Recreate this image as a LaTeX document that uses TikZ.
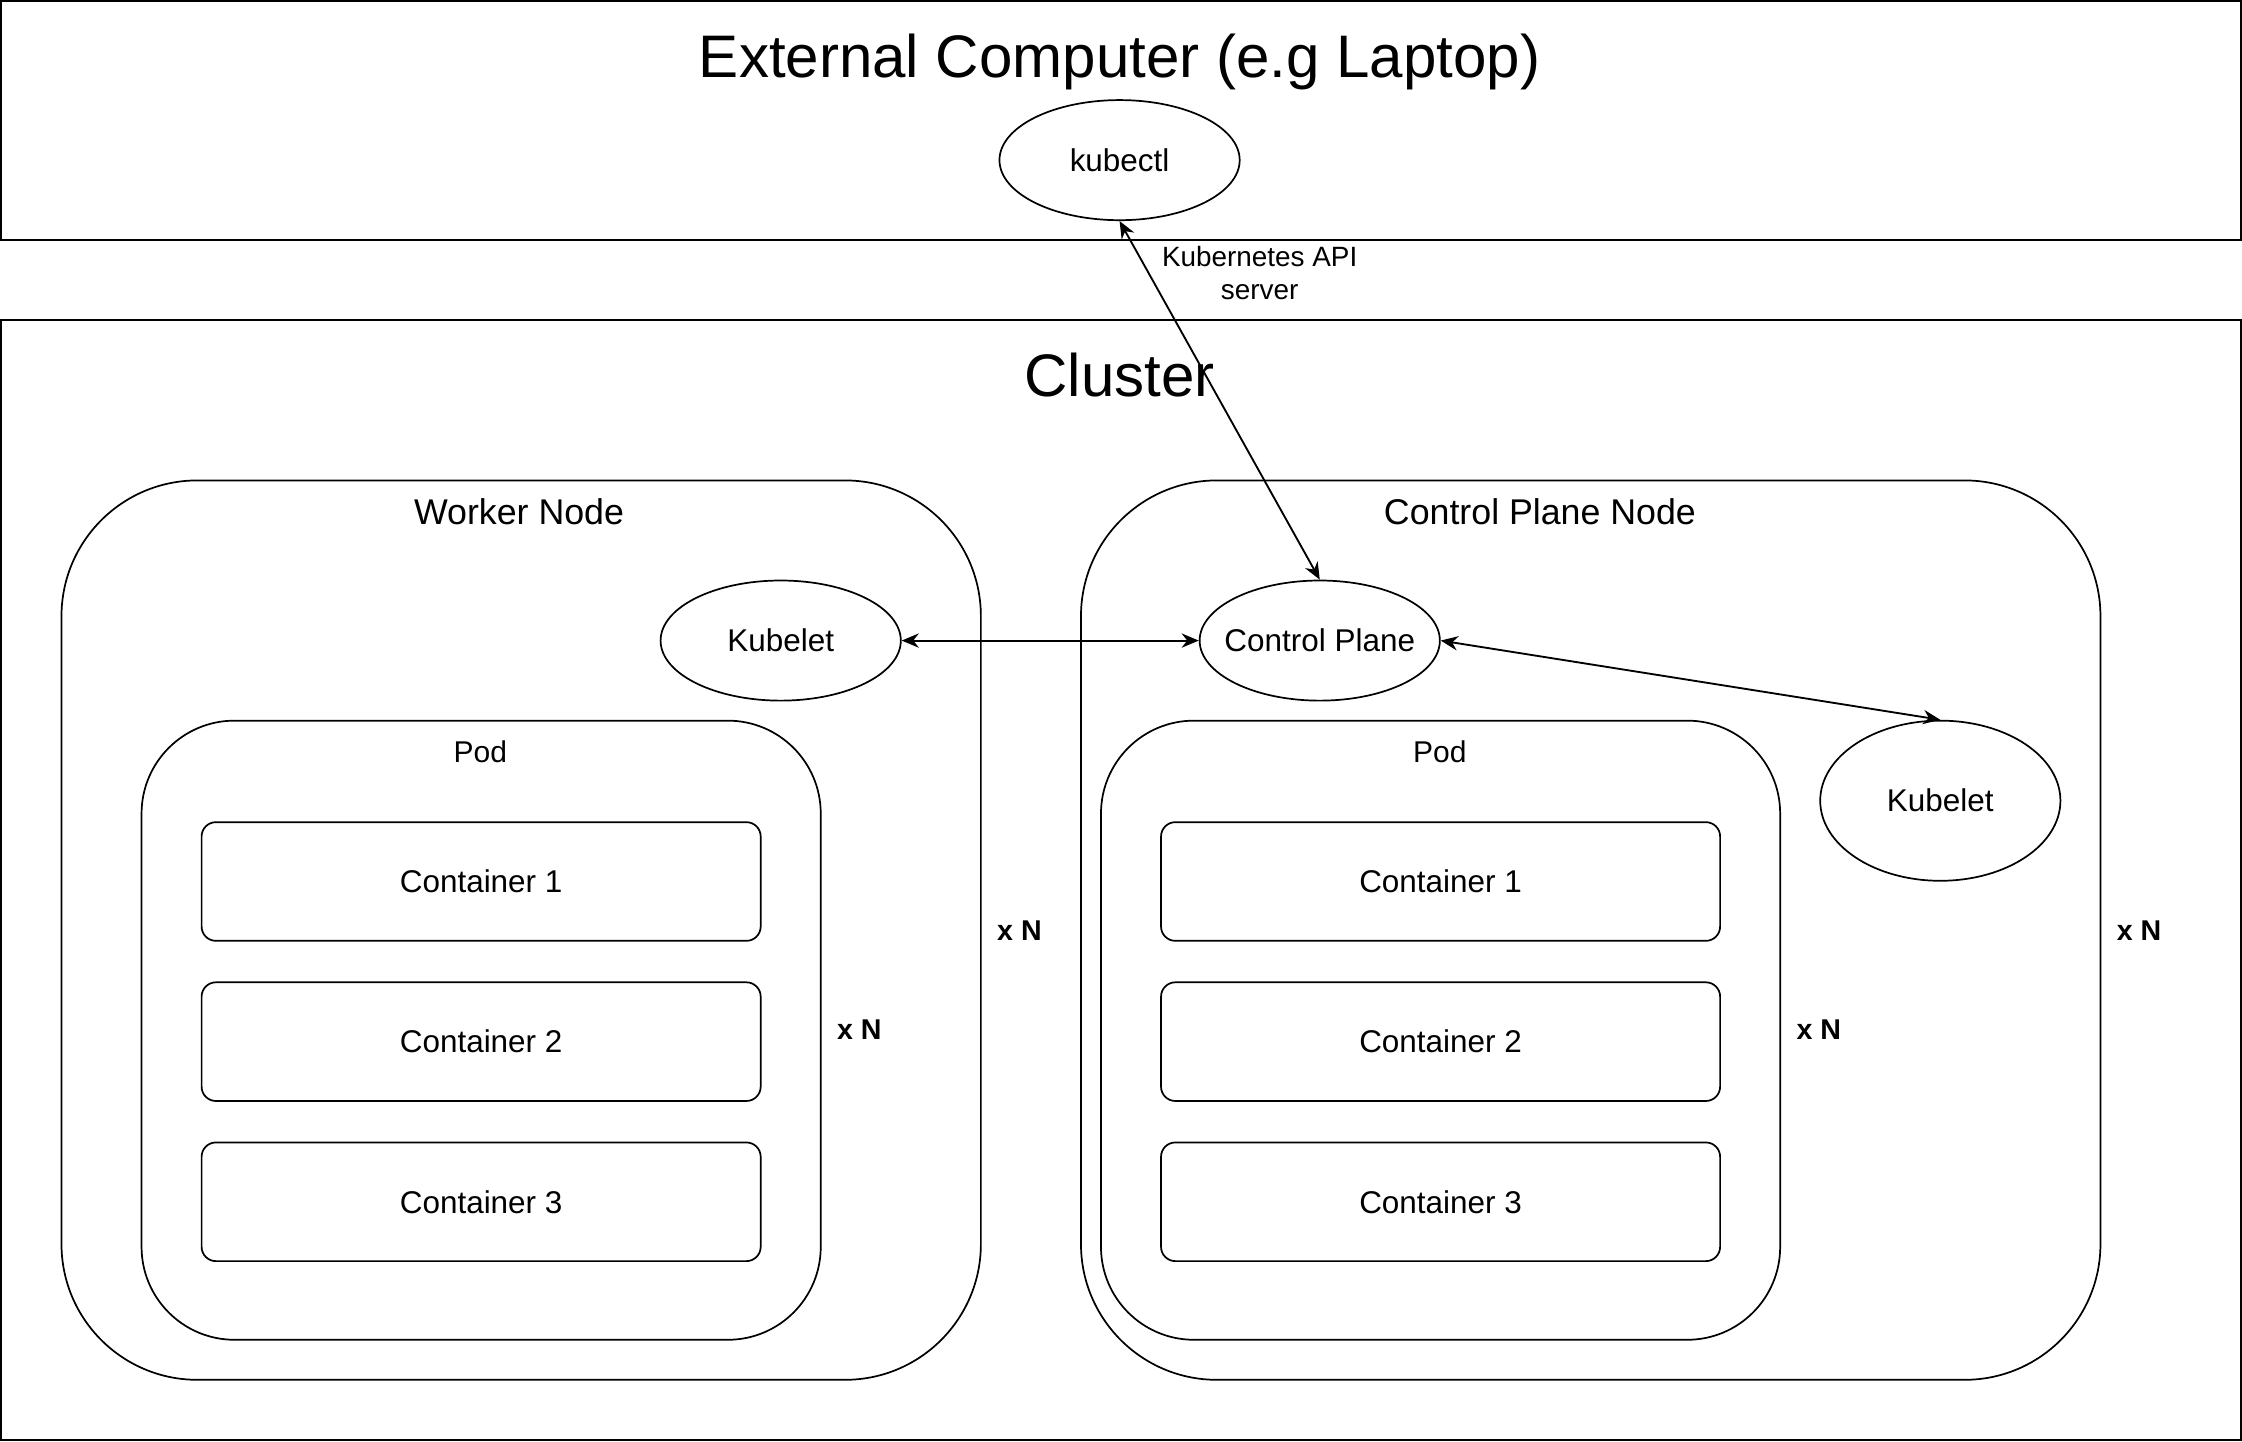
\documentclass[tikz,border=0pt]{standalone}
\usepackage{fontspec}
\setmainfont{Liberation Sans}
\usetikzlibrary{arrows.meta}
\usetikzlibrary{shapes.geometric}
\newcommand{\sizept}[1]{\fontsize{#1}{#1}\selectfont}
\tikzset{
  frame/.style={draw, line width=1.2pt},
  cont/.style={draw, line width=1.2pt, rounded corners=10pt, inner sep=0pt,
    minimum width=391pt, minimum height=83pt, font=\sizept{22}},
  oval/.style={draw, ellipse, line width=1.2pt, inner sep=0pt,
    minimum width=168pt, minimum height=84pt, font=\sizept{22}},
  bigtitle/.style={anchor=base, font=\sizept{42}},
  boxtitle/.style={anchor=base, font=\sizept{25}},
  podtitle/.style={anchor=base, font=\sizept{21}},
  count/.style={anchor=base, font=\sizept{20}\bfseries},
  link/.style={line width=1.3pt, {Stealth[length=12pt,width=10pt]}-{Stealth[length=12pt,width=10pt]}},
}
\begin{document}
\begin{tikzpicture}[x=1pt,y=-1pt]
		\useasboundingbox (0,0) rectangle (1568,1008);
		% laptop
		\draw[frame] (0.7,0.7) rectangle (1567.3,167.8);
		\node[bigtitle] (laptoptitle) at (783,54) {External Computer (e.g Laptop)};
		\node[oval] (kubectl) at (783,112) {kubectl};
		% cluster
		\draw[frame] (0.7,224) rectangle (1567.3,1007.3);
		\node[bigtitle] (clustertitle) at (783,277) {Cluster};
		% worker node
		\draw[frame, rounded corners=95pt] (43,336) rectangle (686,965);
		\node[boxtitle] (workertitle) at (363,367) {Worker Node};
		\node[oval] (wkubelet) at (546,448) {Kubelet};
		\draw[frame, rounded corners=65pt] (99,504) rectangle (574,937);
		\node[podtitle] (wpodtitle) at (336,533) {Pod};
		\node[cont] (wc1) at (336.5,616.5) {Container 1};
		\node[cont] (wc2) at (336.5,728.5) {Container 2};
		\node[cont] (wc3) at (336.5,840.5) {Container 3};
		\node[count] (wpodn) at (601,727) {x N};
		\node[count] (wnoden) at (713,658) {x N};
		% control plane node
		\draw[frame, rounded corners=95pt] (756,336) rectangle (1469,965);
		\node[boxtitle] (cptitle) at (1077,367) {Control Plane Node};
		\node[oval, inner xsep=-14pt] (cp) at (923,448) {Control Plane};
		\node[oval, minimum height=112pt] (ckubelet) at (1357,560) {Kubelet};
		\draw[frame, rounded corners=65pt] (770,504) rectangle (1245,937);
		\node[podtitle] (cpodtitle) at (1007,533) {Pod};
		\node[cont] (cc1) at (1007.5,616.5) {Container 1};
		\node[cont] (cc2) at (1007.5,728.5) {Container 2};
		\node[cont] (cc3) at (1007.5,840.5) {Container 3};
		\node[count] (cpodn) at (1272,727) {x N};
		\node[count] (cnoden) at (1496,658) {x N};
		% links
		\draw[link] (kubectl.south) -- (cp.north);
		\node[align=center, font=\fontsize{19.5}{23}\selectfont] (apilabel) at (881,191) {Kubernetes API\\server};
		\draw[link] (wkubelet.east) -- (cp.west);
		\draw[link] (cp.east) -- (ckubelet.north);
\end{tikzpicture}
\end{document}
